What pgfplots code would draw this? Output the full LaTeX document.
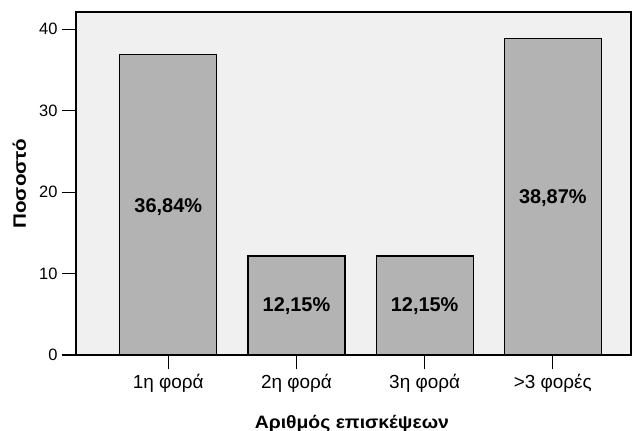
\documentclass[border=0pt]{standalone}
\usepackage{pgfplots}
\pgfplotsset{compat=1.18}
\usepackage{fontspec}
\setmainfont{Liberation Sans}
\newfontfamily\grx[FakeStretch=1.08]{Liberation Sans}
\newfontfamily\gry[FakeStretch=1.15]{Liberation Sans}
\definecolor{bgc}{HTML}{F0F0F0}
\definecolor{barc}{HTML}{B3B3B3}
\begin{document}
\begin{tikzpicture}
\useasboundingbox (0,0) rectangle (632bp,431bp);
\begin{axis}[
  at={(76bp,76bp)}, anchor=south west,
  scale only axis, width=555bp, height=343bp,
  xmin=-0.72, xmax=3.61, ymin=0, ymax=42.1,
  xtick={0,1,2,3}, xticklabels={1η φορά,2η φορά,3η φορά,>3 φορές},
  ytick={0,10,20,30,40},
  xtick pos=bottom, ytick pos=left,
  tick align=outside, major tick length=14bp,
  every tick/.style={black, line width=1.1pt},
  axis line style={line width=1.1pt},
  axis background/.style={fill=bgc},
  /pgf/number format/assume math mode=true,
  yticklabel style={font=\fontsize{16.5}{18}\selectfont, xshift=-1bp},
  xticklabel style={font=\fontsize{19}{21}\selectfont, yshift=-2bp},
  xlabel={Αριθμός επισκέψεων},
  ylabel={Ποσοστό},
  every axis y label/.style={at={(axis description cs:-0.102,0.5)}, rotate=90, anchor=center, font=\gry\bfseries\fontsize{18}{20}\selectfont},
  every axis x label/.style={at={(axis description cs:0.497,-0.2)}, anchor=center, font=\grx\bfseries\fontsize{18}{20}\selectfont},
  clip=false,
]
\addplot[ybar, bar width=97bp, fill=barc, draw=black, line width=1.1pt] coordinates {(0,36.84) (1,12.15) (2,12.15) (3,38.87)};
\addplot[draw=none, mark=none, nodes near coords, point meta=explicit symbolic,
  nodes near coords align=center,
  every node near coord/.append style={font=\bfseries\fontsize{20}{22}\selectfont, anchor=center}]
  coordinates {(0,18.2) [36,84\%] (1,5.95) [12,15\%] (2,5.95) [12,15\%] (3,19.2) [38,87\%]};
\end{axis}
\end{tikzpicture}
\end{document}
